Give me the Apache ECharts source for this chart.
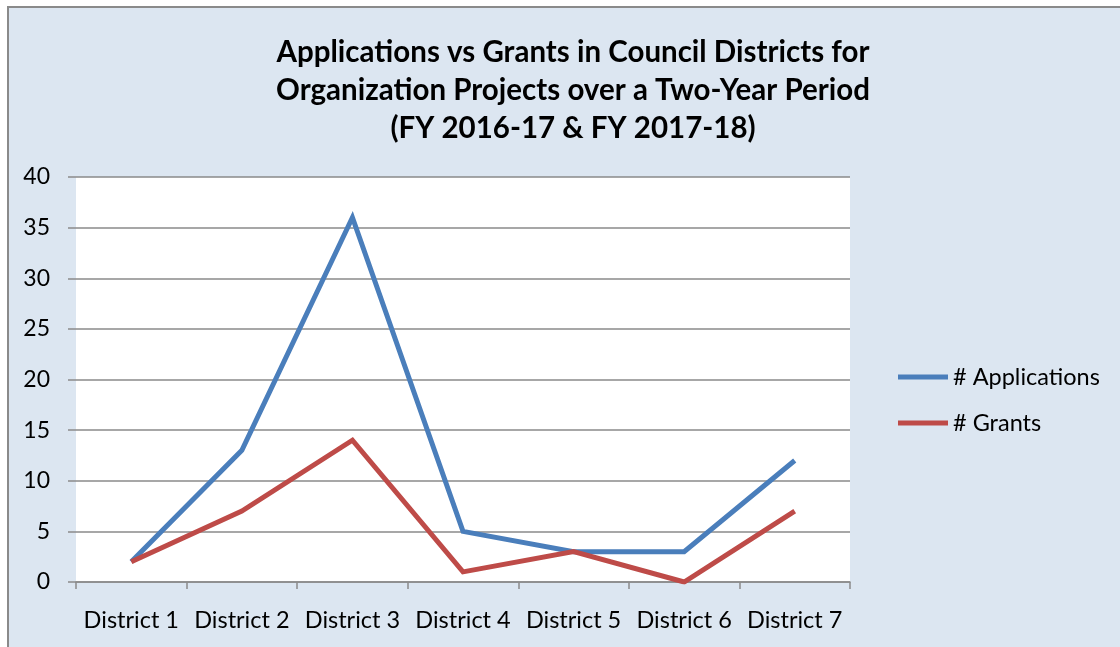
<!DOCTYPE html>
<html>
<head>
<meta charset="utf-8">
<script src="https://cdn.jsdelivr.net/npm/echarts@6/dist/echarts.min.js"></script>
<style>
  html, body { margin: 0; padding: 0; background: #ffffff; overflow: hidden; }
  .frame {
    position: absolute; left: 7px; top: 6px; width: 1200px; height: 700px;
    background: #dce6f1; border-left: 2px solid #8a8a8a; border-top: 2px solid #8a8a8a;
  }
  #chart { position: absolute; left: 0; top: 0; width: 1120px; height: 647px; }
</style>
</head>
<body>
<div class="frame"></div>
<div id="chart"></div>
<script>
const districts = ['District 1', 'District 2', 'District 3', 'District 4', 'District 5', 'District 6', 'District 7']
const applications = [2, 13, 36, 5, 3, 3, 12]
const grants = [2, 7, 14, 1, 3, 0, 7]
const yTicks = { min: 0, max: 40, interval: 5 }

const font = 'Lato, "Noto Sans", sans-serif'
const chart = echarts.init(document.getElementById('chart'))
chart.setOption({
  backgroundColor: 'transparent',
  animation: false,
  textStyle: { fontFamily: font },
  title: {
    text: 'Applications vs Grants in Council Districts for\nOrganization Projects over a Two-Year Period\n(FY 2016-17 & FY 2017-18)',
    left: 568,
    top: 28,
    textAlign: 'center',
    textStyle: { fontSize: 29.5, fontWeight: 'bold', color: '#000', lineHeight: 38, fontFamily: font },
  },
  legend: {
    orient: 'vertical',
    left: 893,
    top: 360,
    itemWidth: 50,
    itemHeight: 5,
    itemGap: 22,
    icon: 'rect',
    textStyle: { fontSize: 23.5, lineHeight: 24, color: '#000', fontFamily: font },
    data: ['# Applications', '# Grants'],
  },
  grid: { left: 76, right: 270, top: 177, bottom: 65, show: true, backgroundColor: '#fff', borderWidth: 0 },
  xAxis: {
    type: 'category',
    data: districts,
    boundaryGap: true,
    axisLine: { show: true, lineStyle: { color: '#8a8a8a', width: 1.5 } },
    axisTick: { show: true, length: 7, lineStyle: { color: '#8a8a8a', width: 1.5 } },
    axisLabel: { fontSize: 23.5, color: '#000', margin: 26, fontFamily: font, interval: 0 },
  },
  yAxis: {
    type: 'value',
    min: yTicks.min,
    max: yTicks.max,
    interval: yTicks.interval,
    axisLine: { show: false },
    axisTick: { show: true, length: 8, lineStyle: { color: '#8a8a8a', width: 1.5 } },
    axisLabel: { fontSize: 23, color: '#000', margin: 26, fontFamily: font },
    splitLine: { lineStyle: { color: '#8a8a8a', width: 1.5 } },
  },
  series: [
    {
      name: '# Applications',
      type: 'line',
      data: applications,
      symbol: 'none',
      color: '#4a7ebb',
      lineStyle: { width: 5, color: '#4a7ebb', join: 'miter' },
    },
    {
      name: '# Grants',
      type: 'line',
      data: grants,
      symbol: 'none',
      color: '#be4b48',
      lineStyle: { width: 5, color: '#be4b48', join: 'miter' },
    },
  ],
})
</script>
</body>
</html>
